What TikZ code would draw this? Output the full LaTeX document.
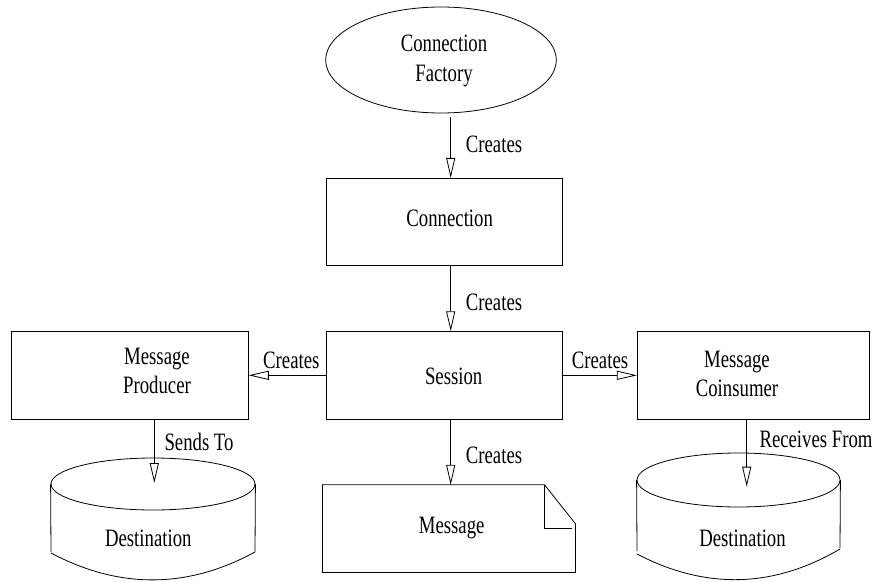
\documentclass[tikz,border=0pt]{standalone}
\usepackage{fontspec}
\setmainfont[FakeStretch=0.75]{Liberation Serif}
\usetikzlibrary{shapes.geometric,arrows.meta}
\begin{document}
\begin{tikzpicture}[x=1pt,y=-1pt,
  every node/.style={font=\fontsize{25}{29.4}\selectfont, inner sep=0pt},
  shp/.style={draw, line width=0.8pt},
  box/.style={shp, minimum width=236.7pt, minimum height=87.3pt},
  arr/.style={line width=0.8pt, -{Triangle[open,length=20pt,width=9pt]}},
  lbl/.style={anchor=base west},
  txt/.style={anchor=base},
  ml/.style={align=center}]
\useasboundingbox (0,0) rectangle (875,581);

% shapes
\node[shp, ellipse, minimum width=230.7pt, minimum height=106pt] (cf) at (441,60) {};
\node[box] (conn) at (444.3,222) {};
\node[box] (sess) at (444.3,375.3) {};
\node[box] (prod) at (130,375.3) {};
\node[box, minimum width=232.2pt] (cons) at (753.4,375.3) {};
\node[minimum width=252.6pt, minimum height=87.3pt] (msg) at (449,528.65) {};
\draw[shp] (msg.north west) -- ([xshift=-31pt]msg.north east) -- ([yshift=-39pt]msg.north east)
  -- (msg.south east) -- (msg.south west) -- cycle;
\draw[shp] ([xshift=-31pt]msg.north east) -- ([xshift=-31pt,yshift=-43.3pt]msg.north east)
  -- ([xshift=-3.6pt,yshift=-43.3pt]msg.north east);

% cylinders
\node[shp, ellipse, minimum width=204pt, minimum height=52pt] (d1) at (153,484) {};
\draw[shp] (d1.west) -- (51,552);
\draw[shp] (d1.east) -- (255,552);
\draw[shp] (51,553) .. controls (119,589) and (187,589) .. (255,552);
\node[shp, ellipse, minimum width=203pt, minimum height=54pt] (d2) at (738.5,480) {};
\draw[shp] (d2.west) -- (637,551);
\draw[shp] (d2.east) -- (840,548);
\draw[shp] (637,554) .. controls (704,589) and (772,589) .. (840,549);

% texts
\node[ml] (tcf) at (444,61) {Connection\\Factory};
\node[txt] (tconn) at (449.7,226.3) {Connection};
\node[txt] (tsess) at (453.7,384.3) {Session};
\node[ml] (tprod) at (157,371) {Message\\Producer};
\node[ml] (tcons) at (737,374) {Message\\Coinsumer};
\node[txt] (tmsg) at (451.7,533.3) {Message};
\node[txt] (td1) at (148.3,546.7) {Destination};
\node[txt] (td2) at (742.5,546.7) {Destination};

% connectors
\coordinate (xa) at (450.7,0);
\coordinate (a1s) at (450.7,117);
\coordinate (d1tip) at (154.3,483);
\coordinate (d2tip) at (746.7,486.7);
\draw[arr] (a1s) -- (conn.north -| xa);
\draw[arr] (conn.south -| xa) -- (sess.north -| xa);
\draw[arr] (sess.south -| xa) -- (msg.north -| xa);
\draw[arr] (sess.west) -- (prod.east);
\draw[arr] (sess.east) -- (cons.west);
\draw[arr] (prod.south -| d1tip) -- (d1tip);
\draw[arr] (cons.south -| d2tip) -- (d2tip);

% labels
\node[lbl] (l1) at (465.7,152) {Creates};
\node[lbl] (l2) at (465.7,310) {Creates};
\node[lbl] (l3) at (465.7,463.3) {Creates};
\node[lbl] (l4) at (263,368.3) {Creates};
\node[lbl] (l5) at (571.7,368.3) {Creates};
\node[lbl] (l6) at (164.3,450) {Sends To};
\node[lbl] (l7) at (759.3,447) {Receives From};
\end{tikzpicture}
\end{document}
